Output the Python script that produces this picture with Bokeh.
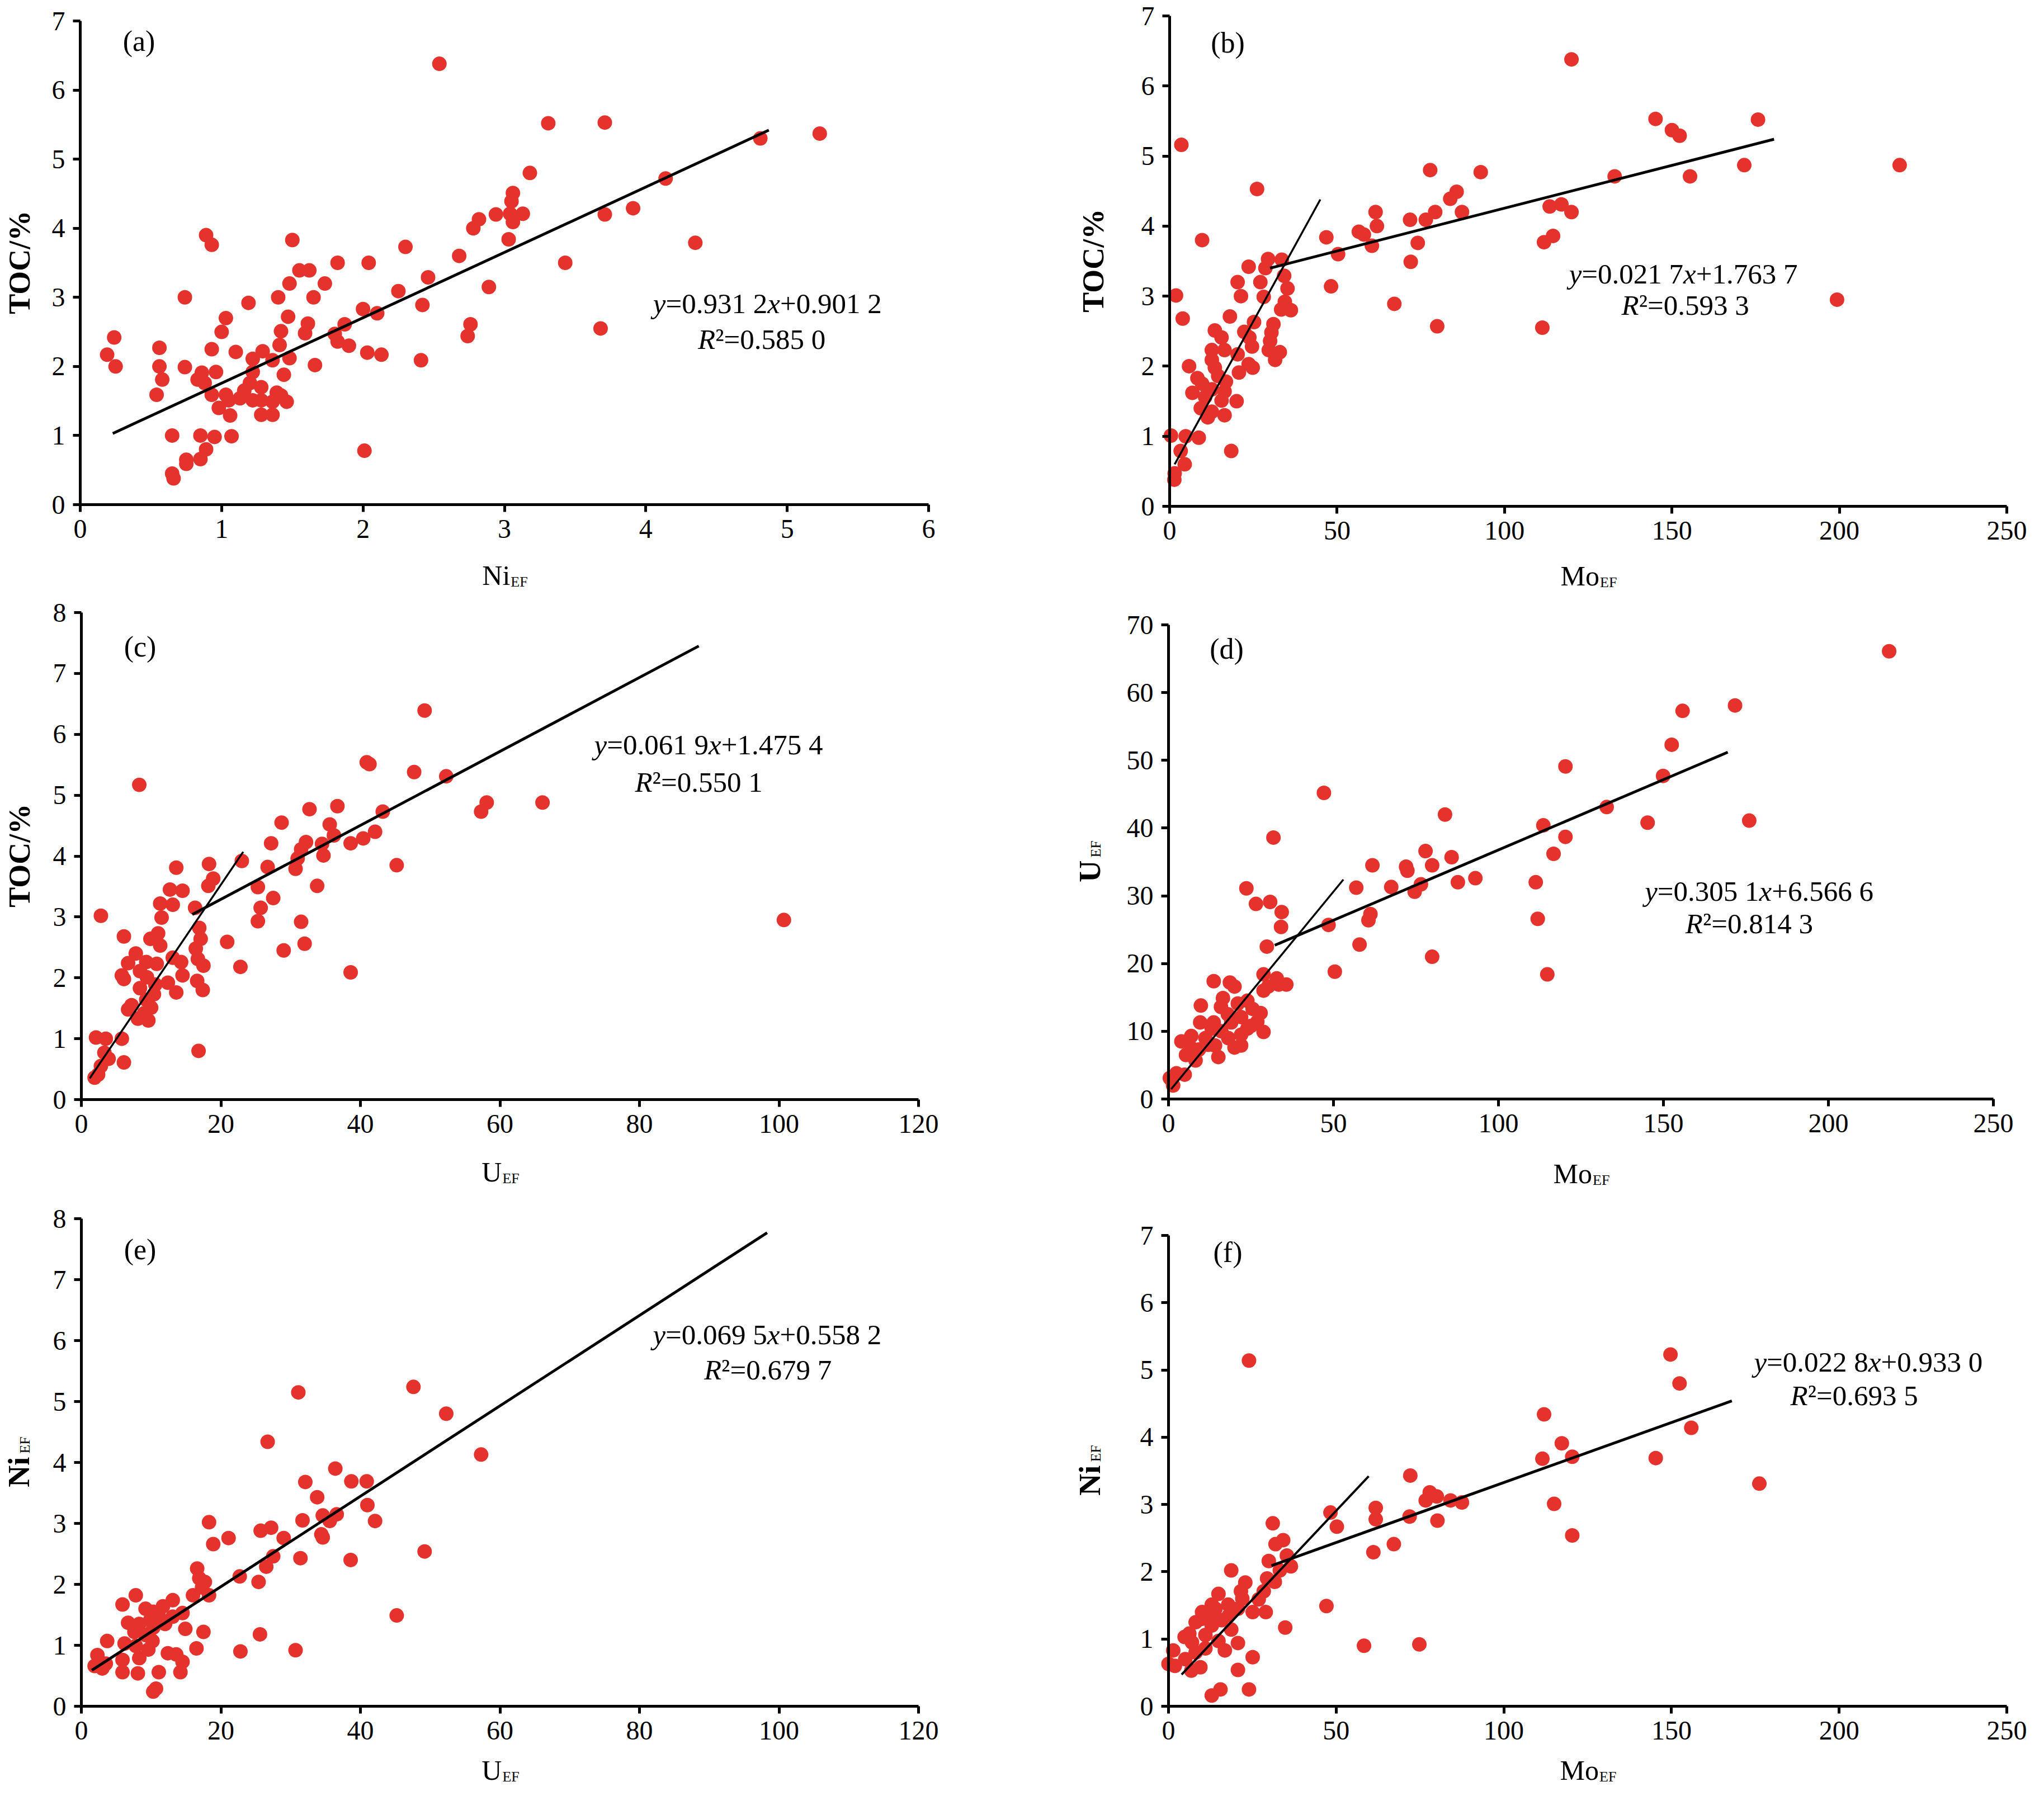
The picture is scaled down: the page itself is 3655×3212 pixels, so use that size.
import math
from bokeh.plotting import figure
from bokeh.layouts import column, row
from bokeh.models import Label, Range1d, FixedTicker, LinearAxis
from bokeh.embed import file_html
from bokeh.resources import INLINE

RED = "#e5322c"
SERIF = "Liberation Serif"
S = 0.994  # page is a little smaller than the reference picture

# ---- data ----
# (a) TOC vs Ni_EF
ni_a = [2.54, 3.31, 3.71, 5.23, 4.81, 3.18, 4.14, 3.06, 3.05, 2.94,
        3.04, 3.13, 3.06, 3.71, 3.91, 2.82, 2.78, 3.03, 4.35, 0.89,
        0.93, 1.50, 2.30, 2.68, 1.82, 2.04, 3.43, 1.55, 1.62, 2.46,
        1.48, 1.73, 2.89, 2.25, 0.74, 1.40, 1.65, 1.19, 2.42, 2.00,
        2.10, 1.03, 1.47, 2.76, 2.74, 1.87, 1.61, 1.00, 1.59, 1.42,
        1.80, 3.68, 0.24, 1.82, 1.90, 1.41, 0.56, 0.93, 1.10, 1.29,
        2.03, 2.13, 0.19, 1.48, 1.22, 2.41, 1.36, 0.25, 0.56, 0.74,
        1.66, 0.96, 1.44, 1.22, 0.86, 0.58, 0.83, 0.88, 1.20, 1.28,
        1.16, 1.39, 0.54, 0.93, 1.03, 1.13, 1.42, 1.22, 1.28, 1.46,
        1.05, 1.36, 0.98, 1.06, 1.28, 1.36, 0.65, 0.85, 0.95, 1.07,
        2.01, 0.89, 0.85, 0.75, 0.75, 0.65, 0.66]
toc_a = [6.38, 5.52, 5.53, 5.37, 5.30, 4.80, 4.72, 4.51, 4.39, 4.20,
         4.21, 4.21, 4.09, 4.20, 4.29, 4.13, 4.00, 3.84, 3.79, 3.90,
         3.76, 3.83, 3.73, 3.60, 3.50, 3.50, 3.50, 3.39, 3.39, 3.29,
         3.20, 3.20, 3.15, 3.09, 3.00, 3.00, 3.00, 2.92, 2.89, 2.83,
         2.77, 2.70, 2.72, 2.61, 2.44, 2.61, 2.62, 2.50, 2.48, 2.51,
         2.47, 2.55, 2.42, 2.36, 2.30, 2.31, 2.27, 2.25, 2.21, 2.22,
         2.20, 2.17, 2.17, 2.12, 2.11, 2.09, 2.09, 2.00, 2.00, 1.99,
         2.02, 1.92, 1.88, 1.92, 1.91, 1.81, 1.81, 1.76, 1.76, 1.70,
         1.65, 1.62, 1.59, 1.59, 1.59, 1.54, 1.58, 1.51, 1.51, 1.49,
         1.51, 1.49, 1.40, 1.29, 1.30, 1.30, 1.00, 1.00, 0.98, 0.99,
         0.78, 0.80, 0.66, 0.65, 0.59, 0.45, 0.38]
fit_a_x = [0.23, 4.87]
fit_a_y = [1.03, 5.42]

# (b) TOC vs Mo_EF
mo_b = [120, 145.1, 175.7, 150, 152.3, 3.5, 218, 171.6, 77.8, 92.9,
        132.9, 155.4, 26.1, 85.7, 83.8, 120, 117, 113.5, 61.5, 79.3,
        87.3, 71.8, 76.5, 61.9, 56.5, 58, 46.8, 114.5, 111.8, 74.1,
        60.4, 9.7, 50.3, 72, 29.4, 33.5, 23.6, 28.6, 34.2, 20.3,
        27.1, 48.2, 35.2, 1.9, 21.3, 28.1, 199.3, 67.1, 34.4, 33.3,
        36.2, 18, 3.9, 25.2, 31, 79.9, 111.3, 13.5, 22.3, 30.4,
        15.5, 23.8, 30, 24.6, 12.6, 16.4, 29.6, 32.9, 20.3, 12.6,
        31.5, 5.8, 23.6, 24.8, 13.5, 20.7, 8.3, 14.5, 16.8, 9.7,
        12.6, 16.4, 6.8, 10.6, 15.5, 20, 9.3, 12.6, 11.4, 16.4,
        0.4, 4.8, 8.7, 18.4, 3.3, 4.5, 1.5, 1.4]
toc_b = [6.38, 5.53, 5.52, 5.37, 5.29, 5.16, 4.87, 4.87, 4.80, 4.77,
         4.71, 4.71, 4.53, 4.49, 4.39, 4.20, 4.31, 4.28, 4.20, 4.20,
         4.20, 4.09, 4.09, 4.00, 3.92, 3.88, 3.84, 3.86, 3.77, 3.76,
         3.72, 3.80, 3.60, 3.49, 3.53, 3.52, 3.42, 3.40, 3.29, 3.20,
         3.20, 3.14, 3.11, 3.01, 3.00, 2.99, 2.95, 2.89, 2.92, 2.81,
         2.80, 2.71, 2.68, 2.63, 2.60, 2.57, 2.55, 2.51, 2.49, 2.48,
         2.41, 2.41, 2.36, 2.28, 2.23, 2.23, 2.23, 2.20, 2.17, 2.09,
         2.09, 2.00, 2.03, 1.98, 1.98, 1.91, 1.83, 1.86, 1.78, 1.75,
         1.67, 1.64, 1.62, 1.56, 1.51, 1.50, 1.40, 1.35, 1.27, 1.30,
         1.01, 1.00, 0.98, 0.79, 0.79, 0.60, 0.47, 0.38]
fit_b1_x = [1.5, 45]
fit_b1_y = [0.6, 4.38]
fit_b2_x = [30, 180.5]
fit_b2_y = [3.4, 5.24]

# (c) TOC vs U_EF
u_c = [49.2, 40.9, 41.3, 47.7, 52.3, 8.3, 66.1, 58.1, 57.3, 32.7,
       36.7, 43.2, 28.7, 35.6, 42.1, 40.4, 36.2, 32.2, 27.2, 38.6,
       31.5, 34.5, 34.7, 31.0, 23.0, 45.2, 13.6, 18.3, 26.7, 30.7,
       18.9, 33.8, 25.3, 18.2, 12.7, 14.5, 27.5, 11.3, 13.1, 25.7,
       16.3, 2.8, 11.5, 25.3, 31.5, 16.9, 11.0, 6.1, 9.9, 17.1,
       20.9, 32.0, 11.3, 16.4, 29.0, 7.8, 13.1, 16.7, 9.3, 6.7,
       14.3, 10.8, 17.5, 22.8, 8.4, 38.6, 5.8, 14.5, 9.4, 6.1,
       16.6, 12.4, 10.6, 8.4, 17.4, 13.6, 10.4, 9.3, 7.2, 10.0,
       6.7, 9.0, 8.1, 9.6, 2.1, 3.5, 5.8, 16.8, 3.3, 3.9,
       6.1, 2.8, 2.4, 1.9, 100.7]
toc_c = [6.39, 5.54, 5.51, 5.38, 5.31, 5.17, 4.88, 4.88, 4.73, 4.77,
         4.82, 4.73, 4.55, 4.52, 4.40, 4.29, 4.34, 4.23, 4.21, 4.21,
         4.11, 4.20, 4.01, 3.96, 3.92, 3.85, 3.81, 3.87, 3.82, 3.79,
         3.63, 3.51, 3.49, 3.51, 3.45, 3.43, 3.31, 3.22, 3.20, 3.15,
         3.15, 3.02, 2.99, 2.93, 2.92, 2.82, 2.73, 2.68, 2.64, 2.64,
         2.59, 2.56, 2.53, 2.48, 2.45, 2.40, 2.33, 2.31, 2.26, 2.24,
         2.26, 2.23, 2.20, 2.18, 2.11, 2.09, 2.04, 2.04, 2.01, 1.98,
         1.95, 1.92, 1.89, 1.83, 1.80, 1.76, 1.73, 1.64, 1.55, 1.51,
         1.48, 1.42, 1.33, 1.30, 1.02, 1.00, 1.00, 0.80, 0.77, 0.67,
         0.61, 0.55, 0.41, 0.36, 2.95]
fit_c1_x = [1.2, 23.2]
fit_c1_y = [0.35, 4.07]
fit_c2_x = [15.9, 88.5]
fit_c2_y = [3.04, 7.45]

# (d) U_EF vs Mo_EF
mo_d = [218.4, 171.7, 155.8, 152.5, 120.3, 149.9, 47.1, 132.8, 83.8, 145.2,
        176.0, 113.6, 31.8, 120.3, 77.9, 116.7, 85.8, 61.8, 79.9, 72.0,
        72.4, 93.0, 87.7, 111.3, 76.5, 56.9, 67.5, 23.6, 74.6, 30.8,
        26.5, 34.3, 61.2, 60.6, 111.9, 34.1, 48.5, 29.8, 57.9, 79.9,
        50.4, 114.8, 28.8, 13.7, 18.6, 20.0, 32.8, 33.4, 35.7, 30.2,
        28.8, 16.5, 23.9, 21.0, 9.8, 15.9, 25.5, 27.9, 22.0, 9.6,
        13.7, 19.0, 26.9, 13.1, 23.9, 28.8, 6.9, 11.2, 18.1, 3.9,
        14.1, 22.0, 20.0, 9.2, 5.3, 15.1, 8.2, 4.9, 2.4, 0.4,
        1.4, 18.0, 22.0, 25.0, 12.0, 16.0, 7.0]
u_d = [66.1, 58.1, 57.3, 52.3, 49.1, 47.7, 45.2, 43.1, 42.0, 40.8,
       41.1, 40.4, 38.6, 38.7, 36.6, 36.2, 35.7, 34.5, 34.5, 34.3,
       33.7, 32.6, 32.0, 32.0, 31.7, 31.2, 31.3, 31.1, 30.6, 29.1,
       28.8, 27.6, 27.3, 26.4, 26.6, 25.4, 25.7, 22.5, 22.8, 21.0,
       18.8, 18.4, 18.4, 17.4, 17.2, 16.6, 17.8, 16.9, 16.9, 16.6,
       16.0, 14.9, 14.5, 14.1, 13.8, 13.6, 13.3, 12.7, 12.1, 11.3,
       11.3, 11.3, 11.4, 10.4, 10.4, 9.9, 9.3, 9.0, 9.0, 8.5,
       7.9, 7.9, 7.6, 7.3, 6.5, 6.2, 5.7, 3.6, 3.8, 3.1,
       2.0, 12.5, 9.5, 10.8, 8.0, 10.0, 7.5]
fit_d1_x = [0.8, 53]
fit_d1_y = [1.46, 32.4]
fit_d2_x = [32.2, 169.5]
fit_d2_y = [22.7, 51.2]

# (e) Ni_EF vs U_EF
u_e = [47.6, 31.1, 52.3, 26.7, 57.3, 36.4, 32.1, 38.7, 40.9, 33.8,
       41.0, 34.6, 36.6, 31.7, 35.6, 42.1, 18.3, 25.7, 27.2, 21.1,
       34.4, 34.6, 29.0, 18.9, 49.2, 31.4, 38.6, 27.5, 26.5, 16.6,
       22.7, 16.9, 17.7, 25.4, 17.3, 16.0, 18.3, 7.8, 13.1, 5.9,
       11.7, 9.2, 10.3, 14.5, 11.1, 13.1, 9.9, 45.2, 6.7, 8.3,
       12.0, 10.3, 14.9, 7.6, 9.2, 17.5, 25.6, 10.2, 3.7, 6.2,
       7.8, 9.6, 16.5, 2.3, 30.7, 22.8, 12.4, 13.6, 5.9, 8.3,
       14.5, 3.5, 1.9, 3.0, 5.9, 8.1, 11.1, 14.2, 10.3, 10.7]
ni_e = [5.24, 5.15, 4.80, 4.34, 4.13, 3.90, 3.68, 3.69, 3.69, 3.43,
        3.30, 3.13, 3.15, 3.05, 3.04, 3.04, 3.02, 2.88, 2.93, 2.76,
        2.82, 2.77, 2.76, 2.66, 2.54, 2.43, 2.40, 2.46, 2.29, 2.26,
        2.13, 2.10, 2.04, 2.04, 1.95, 1.82, 1.82, 1.82, 1.74, 1.67,
        1.64, 1.60, 1.55, 1.53, 1.48, 1.47, 1.42, 1.49, 1.37, 1.35,
        1.35, 1.29, 1.27, 1.22, 1.17, 1.22, 1.18, 1.07, 1.07, 1.03,
        0.99, 0.93, 0.95, 0.84, 0.92, 0.90, 0.87, 0.85, 0.76, 0.79,
        0.73, 0.70, 0.66, 0.62, 0.56, 0.54, 0.56, 0.56, 0.24, 0.29]
fit_e_x = [1.5, 98.3]
fit_e_y = [0.59, 7.77]

# (f) Ni_EF vs Mo_EF
mo_f = [149.7, 24.0, 152.4, 112.0, 155.9, 117.3, 111.5, 145.3, 120.4, 72.1,
        176.2, 77.9, 80.0, 76.7, 84.1, 87.5, 115.0, 61.8, 48.3, 61.8,
        71.9, 80.2, 50.2, 31.1, 120.4, 34.2, 31.9, 67.2, 61.1, 29.9,
        35.3, 36.5, 18.7, 33.2, 29.4, 22.9, 31.7, 21.6, 14.9, 28.4,
        26.9, 12.9, 17.8, 47.1, 20.7, 10.0, 25.1, 29.0, 12.6, 15.8,
        8.1, 12.9, 34.8, 18.7, 6.2, 11.0, 4.8, 14.9, 20.7, 58.3,
        74.8, 1.4, 8.1, 16.8, 25.1, 0.0, 1.9, 9.5, 6.8, 20.7,
        24.0, 15.5, 12.9, 11.0, 10.0, 14.0, 18.0, 7.0, 22.0, 5.0]
ni_f = [5.23, 5.14, 4.80, 4.34, 4.14, 3.91, 3.68, 3.69, 3.71, 3.43,
        3.31, 3.18, 3.12, 3.06, 3.06, 3.03, 3.01, 2.95, 2.88, 2.78,
        2.82, 2.76, 2.67, 2.72, 2.54, 2.47, 2.41, 2.41, 2.29, 2.16,
        2.24, 2.08, 2.02, 2.02, 1.90, 1.84, 1.85, 1.71, 1.67, 1.71,
        1.59, 1.51, 1.51, 1.49, 1.45, 1.40, 1.40, 1.40, 1.34, 1.28,
        1.25, 1.20, 1.17, 1.14, 1.08, 1.06, 1.03, 0.97, 0.94, 0.90,
        0.92, 0.83, 0.80, 0.83, 0.73, 0.63, 0.60, 0.58, 0.53, 0.54,
        0.25, 0.25, 0.16, 0.86, 1.30, 1.45, 1.35, 0.95, 1.60, 0.70]
fit_f1_x = [3.9, 59.7]
fit_f1_y = [0.47, 3.42]
fit_f2_x = [30.7, 168]
fit_f2_y = [2.09, 4.54]

# ---- helpers ----
# rough advance widths (em) of Liberation Serif, to line up mixed italic/upright pieces
EM = {".": 0.25, " ": 0.25, "=": 0.564, "+": 0.564, "\u00b2": 0.3,
      "y": 0.444, "x": 0.444, "R": 0.611, "N": 0.722, "i": 0.278,
      "M": 0.889, "o": 0.5, "U": 0.722, "E": 0.611, "F": 0.556,
      "T": 0.667, "O": 0.722, "C": 0.667, "/": 0.278, "%": 0.833}

TICK_PX = 48
EQ_PX = 51
XT_PX, XSUB_PX = 50, 26
YT_PX, YSUB_PX = 54, 26
TAG_PX = 52


def px(v):
    return int(round(v * S))


def text_width(s, size):
    return sum(EM.get(c, 0.5) for c in s) * size


def lab(p, x, y, text, size, units="screen", style="normal", align="left",
        baseline="middle", angle=0.0, x_offset=0):
    p.add_layout(Label(x=x, y=y, x_units=units, y_units=units, text=text,
                       x_offset=x_offset, angle=angle,
                       text_font=SERIF, text_font_size=f"{size}px",
                       text_font_style=style, text_color="black",
                       text_align=align, text_baseline=baseline))


def add_equation(p, x, y, pieces, size=EQ_PX):
    total = sum(text_width(t, size) for t, _ in pieces)
    off = -total / 2
    for t, italic in pieces:
        lab(p, x, y, t, size, units="data", style="italic" if italic else "normal",
            x_offset=off)
        off += text_width(t, size)


def style_axis(ax):
    ax.axis_line_width = 5
    ax.axis_line_color = "black"
    ax.major_tick_line_width = 5
    ax.major_tick_line_color = "black"
    ax.major_tick_out = 13
    ax.major_tick_in = 0
    ax.minor_tick_line_color = None
    ax.major_label_text_font = SERIF
    ax.major_label_text_font_size = f"{TICK_PX}px"
    ax.major_label_text_color = "black"
    ax.major_label_standoff = 14


def make_panel(cfg):
    w, h = cfg["size"]
    L, R, T, B = cfg["frame"]          # where the axes sit, reference pixels
    W, H = px(w), px(h)
    l, r, t, b = px(L), px(R), px(T), px(B)
    x0, x1 = cfg["xr"]
    y0, y1 = cfg["yr"]
    kx = (x1 - x0) / (r - l)
    ky = (y1 - y0) / (b - t)
    # the plotting area fills the whole canvas; axes are pinned at x=0 / y=0
    p = figure(width=W, height=H,
               x_range=Range1d(x0 - l * kx, x1 + (W - r) * kx),
               y_range=Range1d(y0 - (H - b) * ky, y1 + t * ky),
               x_axis_location=None, y_axis_location=None,
               output_backend="svg", toolbar_location=None, tools="",
               min_border=0)
    p.outline_line_color = None
    p.grid.visible = False

    xaxis = LinearAxis(fixed_location=y0, bounds=(x0, x1),
                       ticker=FixedTicker(ticks=cfg["xticks"]))
    yaxis = LinearAxis(fixed_location=x0, bounds=(y0, y1),
                       ticker=FixedTicker(ticks=cfg["yticks"]))
    style_axis(xaxis)
    style_axis(yaxis)
    p.add_layout(xaxis, "below")
    p.add_layout(yaxis, "left")

    # points and fitted lines
    p.scatter(cfg["x"], cfg["y"], size=26, fill_color=RED, line_color=None)
    for fx, fy, lw in cfg["fits"]:
        p.line(fx, fy, line_color="black", line_width=lw)

    # panel tag
    dx, dy = cfg["tag_pos"]
    lab(p, px(L + dx), H - px(T + dy), cfg["tag"], TAG_PX, align="center")

    # x axis title with subscript
    main, sub = cfg["xlabel"]
    wm, ws = text_width(main, XT_PX), text_width(sub, XSUB_PX)
    xs = px((L + R) / 2) - (wm + ws) / 2
    yb = H - px(B + cfg["xlab_dy"])
    lab(p, xs, yb, main, XT_PX, baseline="alphabetic")
    lab(p, xs + wm + 1, yb - 12, sub, XSUB_PX, baseline="alphabetic")

    # y axis title (rotated, bold) with optional subscript
    main, sub = cfg["ylabel"]
    wm = text_width(main, YT_PX) * 1.08
    ws = text_width(sub, YSUB_PX) if sub else 0
    yx = px(L + cfg["ylab_dx"])
    ys = H - px((T + B) / 2) - (wm + ws) / 2
    lab(p, yx, ys, main, YT_PX, style="bold", angle=math.pi / 2)
    if sub:
        lab(p, yx + 11, ys + wm + 2, sub, YSUB_PX, angle=math.pi / 2)

    # regression equation
    (ex1, ey1), (ex2, ey2) = cfg["eq_pos"]
    k, c, r2 = cfg["eq"]
    add_equation(p, ex1, ey1, [("y", True), ("=" + k, False), ("x", True), ("+" + c, False)])
    add_equation(p, ex2, ey2, [("R", True), ("\u00b2=" + r2, False)])
    return p


panels = [
    dict(tag="(a)", size=(1830, 1070), frame=(144, 1670, 37, 907),
         xr=(0, 6), yr=(0, 7), xticks=list(range(0, 7)), yticks=list(range(0, 8)),
         x=ni_a, y=toc_a, fits=[(fit_a_x, fit_a_y, 5)],
         tag_pos=(106, 36), xlabel=("Ni", "EF"), xlab_dy=127,
         ylabel=("TOC/%", ""), ylab_dx=-110,
         eq_pos=((4.86, 2.91), (4.82, 2.39)), eq=("0.931 2", "0.901 2", "0.585 0")),
    dict(tag="(b)", size=(1825, 1070), frame=(274, 1780, 28, 910),
         xr=(0, 250), yr=(0, 7), xticks=list(range(0, 251, 50)), yticks=list(range(0, 8)),
         x=mo_b, y=toc_b, fits=[(fit_b1_x, fit_b1_y, 3.5), (fit_b2_x, fit_b2_y, 5)],
         tag_pos=(104, 48), xlabel=("Mo", "EF"), xlab_dy=125,
         ylabel=("TOC/%", ""), ylab_dx=-138,
         eq_pos=((153.4, 3.32), (154.0, 2.87)), eq=("0.021 7", "1.763 7", "0.593 3")),
    dict(tag="(c)", size=(1830, 1070), frame=(146, 1652, 31, 907),
         xr=(0, 120), yr=(0, 8), xticks=list(range(0, 121, 20)), yticks=list(range(0, 9)),
         x=u_c, y=toc_c, fits=[(fit_c1_x, fit_c1_y, 3.5), (fit_c2_x, fit_c2_y, 5)],
         tag_pos=(106, 62), xlabel=("U", "EF"), xlab_dy=130,
         ylabel=("TOC/%", ""), ylab_dx=-112,
         eq_pos=((89.9, 5.83), (88.5, 5.21)), eq=("0.061 9", "1.475 4", "0.550 1")),
    dict(tag="(d)", size=(1825, 1070), frame=(272, 1756, 53, 906),
         xr=(0, 250), yr=(0, 70), xticks=list(range(0, 251, 50)), yticks=list(range(0, 71, 10)),
         x=mo_d, y=u_d, fits=[(fit_d1_x, fit_d1_y, 3.5), (fit_d2_x, fit_d2_y, 5)],
         tag_pos=(104, 44), xlabel=("Mo", "EF"), xlab_dy=134,
         ylabel=("U", "EF"), ylab_dx=-142,
         eq_pos=((179.0, 30.7), (176.0, 25.9)), eq=("0.305 1", "6.566 6", "0.814 3")),
    dict(tag="(e)", size=(1830, 1072), frame=(146, 1652, 51, 929),
         xr=(0, 120), yr=(0, 8), xticks=list(range(0, 121, 20)), yticks=list(range(0, 9)),
         x=u_e, y=ni_e, fits=[(fit_e_x, fit_e_y, 5)],
         tag_pos=(106, 56), xlabel=("U", "EF"), xlab_dy=114,
         ylabel=("Ni", "EF"), ylab_dx=-113,
         eq_pos=((98.3, 6.1), (98.4, 5.52)), eq=("0.069 5", "0.558 2", "0.679 7")),
    dict(tag="(f)", size=(1825, 1072), frame=(272, 1780, 81, 929),
         xr=(0, 250), yr=(0, 7), xticks=list(range(0, 251, 50)), yticks=list(range(0, 8)),
         x=mo_f, y=ni_f, fits=[(fit_f1_x, fit_f1_y, 4), (fit_f2_x, fit_f2_y, 5)],
         tag_pos=(106, 31), xlabel=("Mo", "EF"), xlab_dy=114,
         ylabel=("Ni", "EF"), ylab_dx=-142,
         eq_pos=((208.7, 5.12), (204.5, 4.62)), eq=("0.022 8", "0.933 0", "0.693 5")),
]

figs = [make_panel(c) for c in panels]
layout = column(row(figs[0], figs[1]), row(figs[2], figs[3]), row(figs[4], figs[5]))

open("out.html", "w").write(file_html(layout, INLINE))
